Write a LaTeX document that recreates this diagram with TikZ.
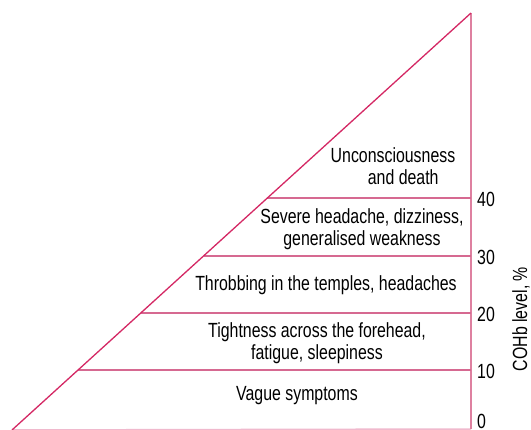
\documentclass[tikz,border=0pt]{standalone}
\usepackage{fontspec}
\setmainfont{Liberation Sans}[FakeStretch=0.775]
\usetikzlibrary{positioning}

\definecolor{slopered}{RGB}{212,40,100}
\definecolor{levelpink}{RGB}{214,105,145}
\definecolor{axispink}{RGB}{222,128,160}
\definecolor{basepink}{RGB}{240,185,205}

\tikzset{
  symptom/.style={inner sep=0pt,align=center,font=\fontsize{20.5}{22}\selectfont},
  levelnum/.style={anchor=west,inner sep=0pt,font=\fontsize{20.5}{22}\selectfont},
  levelline/.style={line width=1.5,color=levelpink}
}

\begin{document}
\begin{tikzpicture}[x=1pt,y=1pt,yscale=-1,xscale=1]
\useasboundingbox (0,0) rectangle (531,430);

% Corners of the triangle
\coordinate (apex) at (471,13);
\coordinate (baseL) at (12,430);
\coordinate (baseR) at (471,429);

% Level ends
\coordinate (l10) at (78,370);  \coordinate (r10) at (471,370);
\coordinate (l20) at (141,313); \coordinate (r20) at (471,313);
\coordinate (l30) at (204,256); \coordinate (r30) at (471,256);
\coordinate (l40) at (267,198); \coordinate (r40) at (471,198);

\draw [line width=1.5,color=basepink] (baseL) -- (baseR) ;
\draw [line width=1.5,color=axispink] (baseR) -- (apex) ;
\draw [levelline] (l10) -- (r10) ;
\draw [levelline] (l20) -- (r20) ;
\draw [levelline] (l30) -- (r30) ;
\draw [levelline] (l40) -- (r40) ;
\draw [line width=1.3,color=slopered] (baseL) -- (apex) ;

% Text Node
\node (death) [symptom] at (393,166) {Unconsciousness\\ \quad and death};
\node (severe) [symptom] at (362,229) {Severe headache, dizziness,\\ generalised weakness};
\node (throb) [symptom] at (326,285) {Throbbing in the temples, headaches};
\node (tight) [symptom] at (317,343) {Tightness across the forehead,\\ fatigue, sleepiness};
\node (vague) [symptom] at (297,396) {Vague symptoms};

\node (n40) [levelnum] at (477,199) {40};
\node (n30) [levelnum] at (477,257) {30};
\node (n20) [levelnum] at (477,314) {20};
\node (n10) [levelnum] at (477,371) {10};
\node (n0) [levelnum] at (477,421) {0};

\node (cohb) [rotate=90,anchor=south,inner sep=0pt,font=\fontsize{20.5}{22}\selectfont] at (530,319) {COHb level, \%};

\end{tikzpicture}
\end{document}
